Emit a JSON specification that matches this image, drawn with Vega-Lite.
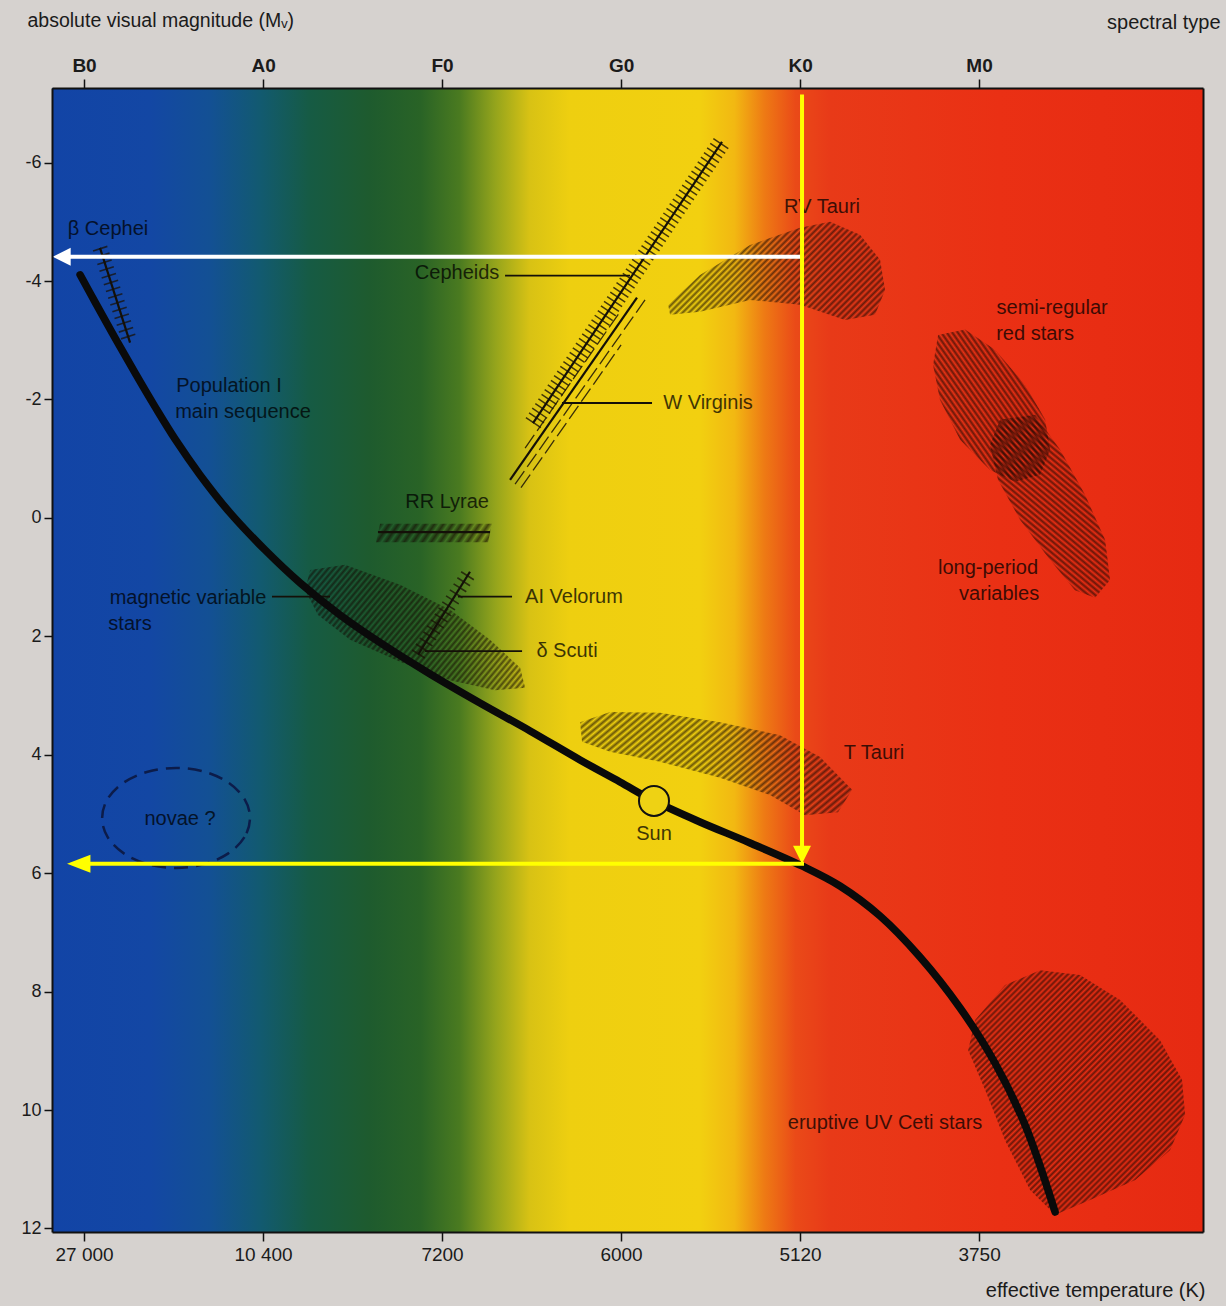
{
  "$schema": "https://vega.github.io/schema/vega-lite/v6.json",
  "width": 1151,
  "height": 1144,
  "autosize": {"type": "none"},
  "padding": {"left": 52, "top": 88, "right": 23, "bottom": 74},
  "background": "#d6d2cf",
  "config": {"font": "Liberation Sans", "view": {"stroke": null}},
  "params": [
    {"name": "hs", "value": [
      {"offset":0,"color":"transparent"},{"offset":0.005,"color":"rgba(20,6,0,.6)"},
      {"offset":0.01,"color":"transparent"},{"offset":0.015,"color":"rgba(20,6,0,.6)"},
      {"offset":0.02,"color":"transparent"},{"offset":0.025,"color":"rgba(20,6,0,.6)"},
      {"offset":0.03,"color":"transparent"},{"offset":0.035,"color":"rgba(20,6,0,.6)"},
      {"offset":0.04,"color":"transparent"},{"offset":0.045,"color":"rgba(20,6,0,.6)"},
      {"offset":0.05,"color":"transparent"},{"offset":0.055,"color":"rgba(20,6,0,.6)"},
      {"offset":0.06,"color":"transparent"},{"offset":0.065,"color":"rgba(20,6,0,.6)"},
      {"offset":0.07,"color":"transparent"},{"offset":0.075,"color":"rgba(20,6,0,.6)"},
      {"offset":0.08,"color":"transparent"},{"offset":0.085,"color":"rgba(20,6,0,.6)"},
      {"offset":0.09,"color":"transparent"},{"offset":0.095,"color":"rgba(20,6,0,.6)"},
      {"offset":0.1,"color":"transparent"},{"offset":0.105,"color":"rgba(20,6,0,.6)"},
      {"offset":0.11,"color":"transparent"},{"offset":0.115,"color":"rgba(20,6,0,.6)"},
      {"offset":0.12,"color":"transparent"},{"offset":0.125,"color":"rgba(20,6,0,.6)"},
      {"offset":0.13,"color":"transparent"},{"offset":0.135,"color":"rgba(20,6,0,.6)"},
      {"offset":0.14,"color":"transparent"},{"offset":0.145,"color":"rgba(20,6,0,.6)"},
      {"offset":0.15,"color":"transparent"},{"offset":0.155,"color":"rgba(20,6,0,.6)"},
      {"offset":0.16,"color":"transparent"},{"offset":0.165,"color":"rgba(20,6,0,.6)"},
      {"offset":0.17,"color":"transparent"},{"offset":0.175,"color":"rgba(20,6,0,.6)"},
      {"offset":0.18,"color":"transparent"},{"offset":0.185,"color":"rgba(20,6,0,.6)"},
      {"offset":0.19,"color":"transparent"},{"offset":0.195,"color":"rgba(20,6,0,.6)"},
      {"offset":0.2,"color":"transparent"},{"offset":0.205,"color":"rgba(20,6,0,.6)"},
      {"offset":0.21,"color":"transparent"},{"offset":0.215,"color":"rgba(20,6,0,.6)"},
      {"offset":0.22,"color":"transparent"},{"offset":0.225,"color":"rgba(20,6,0,.6)"},
      {"offset":0.23,"color":"transparent"},{"offset":0.235,"color":"rgba(20,6,0,.6)"},
      {"offset":0.24,"color":"transparent"},{"offset":0.245,"color":"rgba(20,6,0,.6)"},
      {"offset":0.25,"color":"transparent"},{"offset":0.255,"color":"rgba(20,6,0,.6)"},
      {"offset":0.26,"color":"transparent"},{"offset":0.265,"color":"rgba(20,6,0,.6)"},
      {"offset":0.27,"color":"transparent"},{"offset":0.275,"color":"rgba(20,6,0,.6)"},
      {"offset":0.28,"color":"transparent"},{"offset":0.285,"color":"rgba(20,6,0,.6)"},
      {"offset":0.29,"color":"transparent"},{"offset":0.295,"color":"rgba(20,6,0,.6)"},
      {"offset":0.3,"color":"transparent"},{"offset":0.305,"color":"rgba(20,6,0,.6)"},
      {"offset":0.31,"color":"transparent"},{"offset":0.315,"color":"rgba(20,6,0,.6)"},
      {"offset":0.32,"color":"transparent"},{"offset":0.325,"color":"rgba(20,6,0,.6)"},
      {"offset":0.33,"color":"transparent"},{"offset":0.335,"color":"rgba(20,6,0,.6)"},
      {"offset":0.34,"color":"transparent"},{"offset":0.345,"color":"rgba(20,6,0,.6)"},
      {"offset":0.35,"color":"transparent"},{"offset":0.355,"color":"rgba(20,6,0,.6)"},
      {"offset":0.36,"color":"transparent"},{"offset":0.365,"color":"rgba(20,6,0,.6)"},
      {"offset":0.37,"color":"transparent"},{"offset":0.375,"color":"rgba(20,6,0,.6)"},
      {"offset":0.38,"color":"transparent"},{"offset":0.385,"color":"rgba(20,6,0,.6)"},
      {"offset":0.39,"color":"transparent"},{"offset":0.395,"color":"rgba(20,6,0,.6)"},
      {"offset":0.4,"color":"transparent"},{"offset":0.405,"color":"rgba(20,6,0,.6)"},
      {"offset":0.41,"color":"transparent"},{"offset":0.415,"color":"rgba(20,6,0,.6)"},
      {"offset":0.42,"color":"transparent"},{"offset":0.425,"color":"rgba(20,6,0,.6)"},
      {"offset":0.43,"color":"transparent"},{"offset":0.435,"color":"rgba(20,6,0,.6)"},
      {"offset":0.44,"color":"transparent"},{"offset":0.445,"color":"rgba(20,6,0,.6)"},
      {"offset":0.45,"color":"transparent"},{"offset":0.455,"color":"rgba(20,6,0,.6)"},
      {"offset":0.46,"color":"transparent"},{"offset":0.465,"color":"rgba(20,6,0,.6)"},
      {"offset":0.47,"color":"transparent"},{"offset":0.475,"color":"rgba(20,6,0,.6)"},
      {"offset":0.48,"color":"transparent"},{"offset":0.485,"color":"rgba(20,6,0,.6)"},
      {"offset":0.49,"color":"transparent"},{"offset":0.495,"color":"rgba(20,6,0,.6)"},
      {"offset":0.5,"color":"transparent"},{"offset":0.505,"color":"rgba(20,6,0,.6)"},
      {"offset":0.51,"color":"transparent"},{"offset":0.515,"color":"rgba(20,6,0,.6)"},
      {"offset":0.52,"color":"transparent"},{"offset":0.525,"color":"rgba(20,6,0,.6)"},
      {"offset":0.53,"color":"transparent"},{"offset":0.535,"color":"rgba(20,6,0,.6)"},
      {"offset":0.54,"color":"transparent"},{"offset":0.545,"color":"rgba(20,6,0,.6)"},
      {"offset":0.55,"color":"transparent"},{"offset":0.555,"color":"rgba(20,6,0,.6)"},
      {"offset":0.56,"color":"transparent"},{"offset":0.565,"color":"rgba(20,6,0,.6)"},
      {"offset":0.57,"color":"transparent"},{"offset":0.575,"color":"rgba(20,6,0,.6)"},
      {"offset":0.58,"color":"transparent"},{"offset":0.585,"color":"rgba(20,6,0,.6)"},
      {"offset":0.59,"color":"transparent"},{"offset":0.595,"color":"rgba(20,6,0,.6)"},
      {"offset":0.6,"color":"transparent"},{"offset":0.605,"color":"rgba(20,6,0,.6)"},
      {"offset":0.61,"color":"transparent"},{"offset":0.615,"color":"rgba(20,6,0,.6)"},
      {"offset":0.62,"color":"transparent"},{"offset":0.625,"color":"rgba(20,6,0,.6)"},
      {"offset":0.63,"color":"transparent"},{"offset":0.635,"color":"rgba(20,6,0,.6)"},
      {"offset":0.64,"color":"transparent"},{"offset":0.645,"color":"rgba(20,6,0,.6)"},
      {"offset":0.65,"color":"transparent"},{"offset":0.655,"color":"rgba(20,6,0,.6)"},
      {"offset":0.66,"color":"transparent"},{"offset":0.665,"color":"rgba(20,6,0,.6)"},
      {"offset":0.67,"color":"transparent"},{"offset":0.675,"color":"rgba(20,6,0,.6)"},
      {"offset":0.68,"color":"transparent"},{"offset":0.685,"color":"rgba(20,6,0,.6)"},
      {"offset":0.69,"color":"transparent"},{"offset":0.695,"color":"rgba(20,6,0,.6)"},
      {"offset":0.7,"color":"transparent"},{"offset":0.705,"color":"rgba(20,6,0,.6)"},
      {"offset":0.71,"color":"transparent"},{"offset":0.715,"color":"rgba(20,6,0,.6)"},
      {"offset":0.72,"color":"transparent"},{"offset":0.725,"color":"rgba(20,6,0,.6)"},
      {"offset":0.73,"color":"transparent"},{"offset":0.735,"color":"rgba(20,6,0,.6)"},
      {"offset":0.74,"color":"transparent"},{"offset":0.745,"color":"rgba(20,6,0,.6)"},
      {"offset":0.75,"color":"transparent"},{"offset":0.755,"color":"rgba(20,6,0,.6)"},
      {"offset":0.76,"color":"transparent"},{"offset":0.765,"color":"rgba(20,6,0,.6)"},
      {"offset":0.77,"color":"transparent"},{"offset":0.775,"color":"rgba(20,6,0,.6)"},
      {"offset":0.78,"color":"transparent"},{"offset":0.785,"color":"rgba(20,6,0,.6)"},
      {"offset":0.79,"color":"transparent"},{"offset":0.795,"color":"rgba(20,6,0,.6)"},
      {"offset":0.8,"color":"transparent"}
    ]}
  ],
  "datasets": {
    "mainSequence": [
      {"i":0,"s":-0.022,"m":-4.105},{"i":1,"s":0.061,"m":-3.649},{"i":2,"s":0.173,"m":-3.041},
      {"i":3,"s":0.285,"m":-2.449},{"i":4,"s":0.397,"m":-1.875},{"i":5,"s":0.508,"m":-1.334},
      {"i":6,"s":0.648,"m":-0.726},{"i":7,"s":0.816,"m":-0.084},{"i":8,"s":1.011,"m":0.541},
      {"i":9,"s":1.207,"m":1.098},{"i":10,"s":1.430,"m":1.639},{"i":11,"s":1.682,"m":2.162},
      {"i":12,"s":1.933,"m":2.635},{"i":13,"s":2.212,"m":3.125},{"i":14,"s":2.492,"m":3.598},
      {"i":15,"s":2.771,"m":4.088},{"i":16,"s":2.994,"m":4.459},{"i":17,"s":3.184,"m":4.780},
      {"i":18,"s":3.441,"m":5.135},{"i":19,"s":3.721,"m":5.490},{"i":20,"s":4.011,"m":5.878},
      {"i":21,"s":4.223,"m":6.216},{"i":22,"s":4.447,"m":6.723},{"i":23,"s":4.670,"m":7.416},
      {"i":24,"s":4.894,"m":8.277},{"i":25,"s":5.089,"m":9.206},{"i":26,"s":5.257,"m":10.253},
      {"i":27,"s":5.425,"m":11.723}
    ],
    "zones": [
      {"zone":"T Tauri","i":0,"s":2.771,"m":3.45},{"zone":"T Tauri","i":1,"s":2.939,"m":3.28},
      {"zone":"T Tauri","i":2,"s":3.218,"m":3.29},{"zone":"T Tauri","i":3,"s":3.553,"m":3.45},
      {"zone":"T Tauri","i":4,"s":3.888,"m":3.67},{"zone":"T Tauri","i":5,"s":4.112,"m":4.04},
      {"zone":"T Tauri","i":6,"s":4.291,"m":4.59},{"zone":"T Tauri","i":7,"s":4.212,"m":4.97},
      {"zone":"T Tauri","i":8,"s":4.028,"m":5.02},{"zone":"T Tauri","i":9,"s":3.832,"m":4.68},
      {"zone":"T Tauri","i":10,"s":3.553,"m":4.39},{"zone":"T Tauri","i":11,"s":3.218,"m":4.12},
      {"zone":"T Tauri","i":12,"s":2.939,"m":3.95},{"zone":"T Tauri","i":13,"s":2.782,"m":3.78},

      {"zone":"RV Tauri","i":0,"s":3.263,"m":-3.60},{"zone":"RV Tauri","i":1,"s":3.441,"m":-4.10},
      {"zone":"RV Tauri","i":2,"s":3.721,"m":-4.61},{"zone":"RV Tauri","i":3,"s":4.000,"m":-4.90},
      {"zone":"RV Tauri","i":4,"s":4.168,"m":-5.00},{"zone":"RV Tauri","i":5,"s":4.335,"m":-4.78},
      {"zone":"RV Tauri","i":6,"s":4.447,"m":-4.36},{"zone":"RV Tauri","i":7,"s":4.475,"m":-3.85},
      {"zone":"RV Tauri","i":8,"s":4.419,"m":-3.43},{"zone":"RV Tauri","i":9,"s":4.251,"m":-3.34},
      {"zone":"RV Tauri","i":10,"s":4.000,"m":-3.60},{"zone":"RV Tauri","i":11,"s":3.721,"m":-3.68},
      {"zone":"RV Tauri","i":12,"s":3.441,"m":-3.48},{"zone":"RV Tauri","i":13,"s":3.274,"m":-3.43},

      {"zone":"semi-regular","i":0,"s":4.771,"m":-3.09},{"zone":"semi-regular","i":1,"s":4.922,"m":-3.18},
      {"zone":"semi-regular","i":2,"s":5.089,"m":-2.84},{"zone":"semi-regular","i":3,"s":5.257,"m":-2.25},
      {"zone":"semi-regular","i":4,"s":5.369,"m":-1.66},{"zone":"semi-regular","i":5,"s":5.397,"m":-1.15},
      {"zone":"semi-regular","i":6,"s":5.341,"m":-0.73},{"zone":"semi-regular","i":7,"s":5.201,"m":-0.61},
      {"zone":"semi-regular","i":8,"s":5.061,"m":-0.81},{"zone":"semi-regular","i":9,"s":4.894,"m":-1.32},
      {"zone":"semi-regular","i":10,"s":4.782,"m":-1.99},{"zone":"semi-regular","i":11,"s":4.743,"m":-2.58},

      {"zone":"long-period","i":0,"s":5.117,"m":-1.66},{"zone":"long-period","i":1,"s":5.313,"m":-1.74},
      {"zone":"long-period","i":2,"s":5.453,"m":-1.15},{"zone":"long-period","i":3,"s":5.592,"m":-0.39},
      {"zone":"long-period","i":4,"s":5.704,"m":0.37},{"zone":"long-period","i":5,"s":5.732,"m":1.05},
      {"zone":"long-period","i":6,"s":5.648,"m":1.35},{"zone":"long-period","i":7,"s":5.536,"m":1.22},
      {"zone":"long-period","i":8,"s":5.397,"m":0.71},{"zone":"long-period","i":9,"s":5.229,"m":0.03},
      {"zone":"long-period","i":10,"s":5.106,"m":-0.64},{"zone":"long-period","i":11,"s":5.061,"m":-1.23},

      {"zone":"UV Ceti","i":0,"s":4.978,"m":8.48},{"zone":"UV Ceti","i":1,"s":5.145,"m":7.89},
      {"zone":"UV Ceti","i":2,"s":5.341,"m":7.64},{"zone":"UV Ceti","i":3,"s":5.564,"m":7.72},
      {"zone":"UV Ceti","i":4,"s":5.788,"m":8.14},{"zone":"UV Ceti","i":5,"s":6.011,"m":8.82},
      {"zone":"UV Ceti","i":6,"s":6.134,"m":9.49},{"zone":"UV Ceti","i":7,"s":6.151,"m":10.08},
      {"zone":"UV Ceti","i":8,"s":6.067,"m":10.68},{"zone":"UV Ceti","i":9,"s":5.872,"m":11.18},
      {"zone":"UV Ceti","i":10,"s":5.620,"m":11.52},{"zone":"UV Ceti","i":11,"s":5.425,"m":11.77},
      {"zone":"UV Ceti","i":12,"s":5.285,"m":11.35},{"zone":"UV Ceti","i":13,"s":5.145,"m":10.51},
      {"zone":"UV Ceti","i":14,"s":5.034,"m":9.66},{"zone":"UV Ceti","i":15,"s":4.939,"m":8.99},

      {"zone":"magnetic","i":0,"s":1.263,"m":0.88},{"zone":"magnetic","i":1,"s":1.458,"m":0.79},
      {"zone":"magnetic","i":2,"s":1.765,"m":1.13},{"zone":"magnetic","i":3,"s":2.045,"m":1.55},
      {"zone":"magnetic","i":4,"s":2.268,"m":2.06},{"zone":"magnetic","i":5,"s":2.436,"m":2.53},
      {"zone":"magnetic","i":6,"s":2.464,"m":2.87},{"zone":"magnetic","i":7,"s":2.296,"m":2.91},
      {"zone":"magnetic","i":8,"s":2.045,"m":2.74},{"zone":"magnetic","i":9,"s":1.765,"m":2.43},
      {"zone":"magnetic","i":10,"s":1.486,"m":2.06},{"zone":"magnetic","i":11,"s":1.307,"m":1.64},
      {"zone":"magnetic","i":12,"s":1.235,"m":1.22},

      {"zone":"RR Lyrae","i":0,"s":1.654,"m":0.10},{"zone":"RR Lyrae","i":1,"s":2.279,"m":0.10},
      {"zone":"RR Lyrae","i":2,"s":2.257,"m":0.41},{"zone":"RR Lyrae","i":3,"s":1.631,"m":0.41}
    ],
    "bands": [
      {"band":"beta Cephei","i":0,"s":0.089,"m":-4.56},{"band":"beta Cephei","i":1,"s":0.257,"m":-2.96},
      {"band":"Cepheids","i":0,"s":2.508,"m":-1.60},{"band":"Cepheids","i":1,"s":3.564,"m":-6.35},
      {"band":"RR Lyrae","i":0,"s":1.642,"m":0.24},{"band":"RR Lyrae","i":1,"s":2.268,"m":0.24},
      {"band":"AI Velorum","i":0,"s":1.866,"m":2.31},{"band":"AI Velorum","i":1,"s":2.156,"m":0.91},
      {"band":"W Virginis","i":0,"s":2.380,"m":-0.64},{"band":"W Virginis","i":1,"s":3.089,"m":-3.72},
      {"band":"W Virginis 1","i":0,"s":2.408,"m":-0.57},{"band":"W Virginis 1","i":1,"s":3.134,"m":-3.68},
      {"band":"W Virginis 2","i":0,"s":2.441,"m":-0.51},{"band":"W Virginis 2","i":1,"s":3.000,"m":-2.92},
      {"band":"W Virginis 3","i":0,"s":2.464,"m":-1.18},{"band":"W Virginis 3","i":1,"s":2.994,"m":-3.48}
    ],
    "novae": [
      {"i":0,"s":0.927,"m":5.068},{"i":1,"s":0.896,"m":5.392},{"i":2,"s":0.806,"m":5.666},
      {"i":3,"s":0.672,"m":5.848},{"i":4,"s":0.514,"m":5.912},{"i":5,"s":0.356,"m":5.848},
      {"i":6,"s":0.222,"m":5.666},{"i":7,"s":0.132,"m":5.392},{"i":8,"s":0.101,"m":5.068},
      {"i":9,"s":0.132,"m":4.745},{"i":10,"s":0.222,"m":4.470},{"i":11,"s":0.356,"m":4.287},
      {"i":12,"s":0.514,"m":4.223},{"i":13,"s":0.672,"m":4.287},{"i":14,"s":0.806,"m":4.470},
      {"i":15,"s":0.896,"m":4.745}
    ],
    "leaders": [
      {"to":"Cepheids","s0":2.352,"s1":3.050,"m":-4.09},
      {"to":"W Virginis","s0":2.670,"s1":3.173,"m":-1.94},
      {"to":"magnetic variable stars","s0":1.050,"s1":1.374,"m":1.33},
      {"to":"AI Velorum","s0":2.089,"s1":2.391,"m":1.33},
      {"to":"delta Scuti","s0":1.905,"s1":2.447,"m":2.25}
    ],
    "labels": [
      {"text":"β Cephei","s":0.134,"m":-4.88},
      {"text":"Cepheids","s":2.084,"m":-4.14},
      {"text":"W Virginis","s":3.486,"m":-1.94},
      {"text":"RV Tauri","s":4.123,"m":-5.25},
      {"text":"semi-regular","s":5.408,"m":-3.55},
      {"text":"red stars","s":5.313,"m":-3.11},
      {"text":"Population I","s":0.810,"m":-2.23},
      {"text":"main sequence","s":0.888,"m":-1.79},
      {"text":"RR Lyrae","s":2.028,"m":-0.27},
      {"text":"long-period","s":5.050,"m":0.84},
      {"text":"variables","s":5.112,"m":1.28},
      {"text":"magnetic variable","s":0.581,"m":1.35},
      {"text":"stars","s":0.257,"m":1.79},
      {"text":"AI Velorum","s":2.737,"m":1.33},
      {"text":"δ Scuti","s":2.698,"m":2.25},
      {"text":"T Tauri","s":4.413,"m":3.97},
      {"text":"Sun","s":3.184,"m":5.34},
      {"text":"novae ?","s":0.536,"m":5.08},
      {"text":"eruptive UV Ceti stars","s":4.475,"m":10.22}
    ]
  },
  "resolve": {"axis": {"x": "independent", "y": "independent"}},
  "layer": [
    {
      "data": {"values": [{"s0": -0.179, "s1": 6.251, "m0": -7.26, "m1": 12.06}]},
      "mark": {"type": "rect", "fill": {"gradient": "linear", "x1": 0, "y1": 0, "x2": 1, "y2": 0, "stops": [
        {"offset": 0, "color": "#1244a6"},
        {"offset": 0.085, "color": "#1347a4"},
        {"offset": 0.137, "color": "#135094"},
        {"offset": 0.181, "color": "#125a70"},
        {"offset": 0.224, "color": "#165b44"},
        {"offset": 0.276, "color": "#1e5b2e"},
        {"offset": 0.32, "color": "#296326"},
        {"offset": 0.354, "color": "#4a7a20"},
        {"offset": 0.385, "color": "#94a41c"},
        {"offset": 0.415, "color": "#d8c214"},
        {"offset": 0.45, "color": "#eecf10"},
        {"offset": 0.563, "color": "#f2d010"},
        {"offset": 0.593, "color": "#f2b812"},
        {"offset": 0.619, "color": "#ee7a14"},
        {"offset": 0.646, "color": "#ea4a18"},
        {"offset": 0.676, "color": "#e83a18"},
        {"offset": 0.824, "color": "#ea3014"},
        {"offset": 1, "color": "#e62a12"}
      ]}},
      "encoding": {
        "x": {"field": "s0", "type": "quantitative",
          "scale": {"domain": [-0.179, 6.251], "nice": false, "zero": false},
          "axis": {"orient": "bottom", "values": [0, 1, 2, 3, 4, 5],
            "labelExpr": "['27 000','10 400','7200','6000','5120','3750'][datum.value]",
            "title": "effective temperature (K)", "titleX": 1153, "titleY": 64, "titleAlign": "right",
            "titleBaseline": "alphabetic", "titleFontSize": 20, "titleFontWeight": "normal", "titleColor": "#1b1b1b",
            "tickSize": 9, "tickWidth": 1.5, "tickColor": "#111", "domainColor": "#111", "domainWidth": 2,
            "labelFontSize": 19, "labelColor": "#1b1b1b", "labelPadding": 4, "grid": false, "zindex": 1}},
        "x2": {"field": "s1"},
        "y": {"field": "m0", "type": "quantitative",
          "scale": {"domain": [-7.26, 12.06], "reverse": true, "nice": false, "zero": false},
          "axis": {"orient": "left", "values": [-6, -4, -2, 0, 2, 4, 6, 8, 10, 12],
            "labelExpr": "datum.value < 0 ? '-' + abs(datum.value) : '' + datum.value",
            "title": "absolute visual magnitude (Mᵥ)", "titleAngle": 0, "titleX": -25, "titleY": -62,
            "titleAlign": "left", "titleBaseline": "alphabetic", "titleFontSize": 19.5, "titleFontWeight": "normal",
            "titleColor": "#1b1b1b", "tickSize": 8, "tickWidth": 1.5, "tickColor": "#111",
            "domainColor": "#111", "domainWidth": 2, "labelFontSize": 18, "labelColor": "#1b1b1b",
            "labelPadding": 3, "grid": false, "zindex": 1}},
        "y2": {"field": "m1"}
      }
    },
    {
      "data": {"name": "zones"},
      "transform": [{"filter": "datum.zone === 'T Tauri'"}],
      "mark": {"type": "line", "strokeOpacity": 0, "fill": {"expr": "{gradient:'linear',x1:0,y1:0,x2:2.377,y2:1.072,stops:hs}"}},
      "encoding": {"x": {"field": "s", "type": "quantitative", "axis": null}, "y": {"field": "m", "type": "quantitative", "axis": null}, "order": {"field": "i"}}
    },
    {
      "data": {"name": "zones"},
      "transform": [{"filter": "datum.zone === 'RV Tauri'"}],
      "mark": {"type": "line", "strokeOpacity": 0, "fill": {"expr": "{gradient:'linear',x1:0,y1:0,x2:2.436,y2:1.1,stops:hs}"}},
      "encoding": {"x": {"field": "s", "type": "quantitative", "axis": null}, "y": {"field": "m", "type": "quantitative", "axis": null}, "order": {"field": "i"}}
    },
    {
      "data": {"name": "zones"},
      "transform": [{"filter": "datum.zone === 'semi-regular'"}],
      "mark": {"type": "line", "strokeOpacity": 0, "fill": {"expr": "{gradient:'linear',x1:0,y1:1,x2:2.569,y2:-1.339,stops:hs}"}},
      "encoding": {"x": {"field": "s", "type": "quantitative", "axis": null}, "y": {"field": "m", "type": "quantitative", "axis": null}, "order": {"field": "i"}}
    },
    {
      "data": {"name": "zones"},
      "transform": [{"filter": "datum.zone === 'long-period'"}],
      "mark": {"type": "line", "strokeOpacity": 0, "fill": {"expr": "{gradient:'linear',x1:0,y1:1,x2:1.356,y2:-1.464,stops:hs}"}},
      "encoding": {"x": {"field": "s", "type": "quantitative", "axis": null}, "y": {"field": "m", "type": "quantitative", "axis": null}, "order": {"field": "i"}}
    },
    {
      "data": {"name": "zones"},
      "transform": [{"filter": "datum.zone === 'UV Ceti'"}],
      "mark": {"type": "line", "strokeOpacity": 0, "fill": {"expr": "{gradient:'linear',x1:0,y1:0,x2:1.203,y2:1.358,stops:hs}"}},
      "encoding": {"x": {"field": "s", "type": "quantitative", "axis": null}, "y": {"field": "m", "type": "quantitative", "axis": null}, "order": {"field": "i"}}
    },
    {
      "data": {"name": "zones"},
      "transform": [{"filter": "datum.zone === 'magnetic'"}],
      "mark": {"type": "line", "strokeOpacity": 0, "fill": {"expr": "{gradient:'linear',x1:0,y1:0,x2:2.175,y2:1.037,stops:hs}"}},
      "encoding": {"x": {"field": "s", "type": "quantitative", "axis": null}, "y": {"field": "m", "type": "quantitative", "axis": null}, "order": {"field": "i"}}
    },
    {
      "data": {"name": "zones"},
      "transform": [{"filter": "datum.zone === 'RR Lyrae'"}],
      "mark": {"type": "line", "strokeOpacity": 0, "fill": {"expr": "{gradient:'linear',x1:0,y1:0,x2:7.695,y2:0.837,stops:hs}"}},
      "encoding": {"x": {"field": "s", "type": "quantitative", "axis": null}, "y": {"field": "m", "type": "quantitative", "axis": null}, "order": {"field": "i"}}
    },
    {
      "data": {"name": "bands"},
      "transform": [{"filter": {"field": "band", "oneOf": ["Cepheids"]}}],
      "mark": {"type": "line", "stroke": "#1a1206", "strokeWidth": 18, "strokeDash": [1.5, 4.1], "strokeCap": "butt", "opacity": 0.8},
      "encoding": {"x": {"field": "s", "type": "quantitative", "axis": null}, "y": {"field": "m", "type": "quantitative", "axis": null}, "detail": {"field": "band"}, "order": {"field": "i"}}
    },
    {
      "data": {"name": "bands"},
      "transform": [{"filter": {"field": "band", "oneOf": ["beta Cephei", "AI Velorum"]}}],
      "mark": {"type": "line", "stroke": "#1a1206", "strokeWidth": 15, "strokeDash": [1.6, 5.5], "strokeCap": "butt", "opacity": 0.75},
      "encoding": {"x": {"field": "s", "type": "quantitative", "axis": null}, "y": {"field": "m", "type": "quantitative", "axis": null}, "detail": {"field": "band"}, "order": {"field": "i"}}
    },
    {
      "data": {"name": "bands"},
      "transform": [{"filter": {"field": "band", "oneOf": ["beta Cephei", "Cepheids", "RR Lyrae", "AI Velorum", "W Virginis"]}}],
      "mark": {"type": "line", "stroke": "#141008", "strokeWidth": 2.2},
      "encoding": {"x": {"field": "s", "type": "quantitative", "axis": null}, "y": {"field": "m", "type": "quantitative", "axis": null}, "detail": {"field": "band"}, "order": {"field": "i"}}
    },
    {
      "data": {"name": "bands"},
      "transform": [{"filter": {"field": "band", "oneOf": ["W Virginis 1", "W Virginis 2", "W Virginis 3"]}}],
      "mark": {"type": "line", "stroke": "#1a1206", "strokeWidth": 1.3, "strokeDash": [16, 5], "opacity": 0.85},
      "encoding": {"x": {"field": "s", "type": "quantitative", "axis": null}, "y": {"field": "m", "type": "quantitative", "axis": null}, "detail": {"field": "band"}, "order": {"field": "i"}}
    },
    {
      "data": {"name": "leaders"},
      "mark": {"type": "rule", "stroke": "#141008", "strokeWidth": 1.8},
      "encoding": {"x": {"field": "s0", "type": "quantitative", "axis": null}, "x2": {"field": "s1"}, "y": {"field": "m", "type": "quantitative", "axis": null}}
    },
    {
      "data": {"name": "novae"},
      "mark": {"type": "line", "stroke": "#0c1c4a", "strokeWidth": 2.5, "strokeDash": [14, 8], "interpolate": "cardinal-closed"},
      "encoding": {"x": {"field": "s", "type": "quantitative", "axis": null}, "y": {"field": "m", "type": "quantitative", "axis": null}, "order": {"field": "i"}}
    },
    {
      "data": {"name": "mainSequence"},
      "mark": {"type": "line", "stroke": "#0a0a0a", "strokeWidth": 7.5, "strokeCap": "round", "interpolate": "catmull-rom"},
      "encoding": {
        "x": {"field": "s", "type": "quantitative",
          "axis": {"orient": "top", "values": [0, 1, 2, 3, 4, 5],
            "labelExpr": "['B0','A0','F0','G0','K0','M0'][datum.value]",
            "labelFontWeight": "bold", "labelFontSize": 19, "labelColor": "#1b1b1b", "labelPadding": 4,
            "title": "spectral type", "titleX": 1168, "titleY": -60, "titleAlign": "right",
            "titleBaseline": "alphabetic", "titleFontSize": 20, "titleFontWeight": "normal", "titleColor": "#1b1b1b",
            "tickSize": 9, "tickWidth": 1.5, "tickColor": "#111", "domainColor": "#111", "domainWidth": 2,
            "grid": false, "zindex": 1}},
        "y": {"field": "m", "type": "quantitative",
          "axis": {"orient": "right", "labels": false, "ticks": false, "title": null,
            "domainColor": "#111", "domainWidth": 2, "grid": false, "zindex": 1}},
        "order": {"field": "i"}
      }
    },
    {
      "data": {"values": [{"star": "Sun", "s": 3.184, "m": 4.78}]},
      "mark": {"type": "point", "shape": "circle", "filled": true, "fill": "#eed214", "stroke": "#111", "strokeWidth": 2, "size": 900, "opacity": 1},
      "encoding": {"x": {"field": "s", "type": "quantitative", "axis": null}, "y": {"field": "m", "type": "quantitative", "axis": null}}
    },
    {
      "data": {"name": "labels"},
      "mark": {"type": "text", "fontSize": 20, "fill": "#000", "opacity": 0.74, "align": "center", "baseline": "middle"},
      "encoding": {"x": {"field": "s", "type": "quantitative", "axis": null}, "y": {"field": "m", "type": "quantitative", "axis": null}, "text": {"field": "text"}}
    },
    {
      "data": {"values": [{"s0": 4.011, "s1": -0.08, "m": -4.41}]},
      "mark": {"type": "rule", "stroke": "#ffffff", "strokeWidth": 4},
      "encoding": {"x": {"field": "s0", "type": "quantitative", "axis": null}, "x2": {"field": "s1"}, "y": {"field": "m", "type": "quantitative", "axis": null}}
    },
    {
      "data": {"values": [{"s": -0.175, "m": -4.41}]},
      "mark": {"type": "point", "shape": "M0,0L2,-1L2,1Z", "filled": true, "fill": "#ffffff", "strokeWidth": 0, "size": 324, "opacity": 1},
      "encoding": {"x": {"field": "s", "type": "quantitative", "axis": null}, "y": {"field": "m", "type": "quantitative", "axis": null}}
    },
    {
      "data": {"values": [{"s": 4.011, "m0": -7.15, "m1": 5.6}]},
      "mark": {"type": "rule", "stroke": "#ffff00", "strokeWidth": 4},
      "encoding": {"x": {"field": "s", "type": "quantitative", "axis": null}, "y": {"field": "m0", "type": "quantitative", "axis": null}, "y2": {"field": "m1"}}
    },
    {
      "data": {"values": [{"s0": 4.022, "s1": -0.03, "m": 5.84}]},
      "mark": {"type": "rule", "stroke": "#ffff00", "strokeWidth": 4},
      "encoding": {"x": {"field": "s0", "type": "quantitative", "axis": null}, "x2": {"field": "s1"}, "y": {"field": "m", "type": "quantitative", "axis": null}}
    },
    {
      "data": {"values": [{"s": 4.011, "m": 5.84}]},
      "mark": {"type": "point", "shape": "M0,0L-1,-2L1,-2Z", "filled": true, "fill": "#ffff00", "strokeWidth": 0, "size": 324, "opacity": 1},
      "encoding": {"x": {"field": "s", "type": "quantitative", "axis": null}, "y": {"field": "m", "type": "quantitative", "axis": null}}
    },
    {
      "data": {"values": [{"s": -0.095, "m": 5.84}]},
      "mark": {"type": "point", "shape": "M0,0L2.6,-1L2.6,1Z", "filled": true, "fill": "#ffff00", "strokeWidth": 0, "size": 324, "opacity": 1},
      "encoding": {"x": {"field": "s", "type": "quantitative", "axis": null}, "y": {"field": "m", "type": "quantitative", "axis": null}}
    }
  ]
}
